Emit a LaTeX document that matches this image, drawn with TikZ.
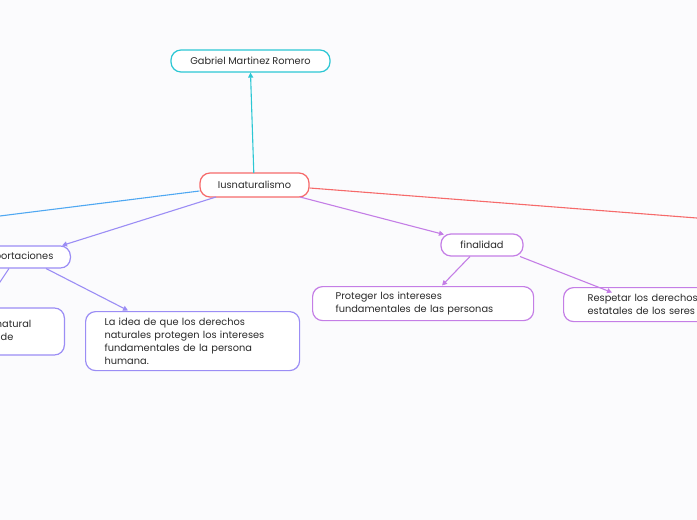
\documentclass[tikz,border=0pt]{standalone}
\usepackage{fontspec}
\setmainfont{Poppins}
\usetikzlibrary{arrows.meta}
\definecolor{bgc}{HTML}{FBFBFD}
\definecolor{cyanc}{HTML}{2CC7D4}
\definecolor{redc}{HTML}{F66A6A}
\definecolor{bluec}{HTML}{4FA8F2}
\definecolor{peric}{HTML}{9B8DF5}
\definecolor{orchc}{HTML}{C47EE6}
\definecolor{txt}{HTML}{2A2A2A}
\tikzset{
  box/.style={draw, line width=1.2pt, rounded corners=10pt, fill=white, text=txt,
    font=\fontsize{9.8}{13}\selectfont, inner ysep=0pt},
  conn/.style={line width=1.1pt},
  arr/.style={conn, -{Triangle[length=5pt,width=5pt]}},
}
\begin{document}
\begin{tikzpicture}[x=1pt,y=-1pt]
\useasboundingbox (0,0) rectangle (697,520);
\fill[bgc] (0,0) rectangle (697,520);
\clip (0,0) rectangle (697,520);

\node[box, draw=cyanc, minimum width=159pt, minimum height=22pt] (gab) at (250.5,61) {Gabriel Martinez Romero};
\node[box, draw=redc, minimum width=109pt, minimum height=24pt] (ius) at (254.5,185) {Iusnaturalismo};
\node[box, draw=peric, minimum height=22pt, inner xsep=17pt, anchor=east] (apo) at (71,257) {Aportaciones};
\node[box, draw=peric, minimum height=47pt, inner xsep=0pt, align=left, anchor=east] (nat) at (65,331.5)
  {\makebox[160pt][r]{La existencia de un derecho natural}\hspace*{33pt}\\\makebox[142pt][r]{superior y anterior al de}};
\node[box, draw=peric, minimum height=59pt, text width=176pt, inner xsep=19pt, align=left, anchor=north west] (idea) at (85,311)
  {La idea de que los derechos\\naturales protegen los intereses\\fundamentales de la persona\\humana.};
\node[box, draw=orchc, minimum width=82pt, minimum height=22pt] (fin) at (482,245) {finalidad};
\node[box, draw=orchc, minimum height=34pt, text width=175pt, inner xsep=23pt, align=left, anchor=north west] (prot) at (312,286)
  {Proteger los intereses\\fundamentales de las personas};
\node[box, draw=orchc, minimum height=34pt, text width=170pt, inner xsep=24pt, align=left, anchor=north west] (resp) at (563,287)
  {Respetar los derechos no\\estatales de los seres humanos};

\coordinate (offl) at (-100,228.5);
\coordinate (offr) at (800,226);
\coordinate (offbl) at (-20,312);

\draw[arr, cyanc] (253.8,173) -- (gab.south);
\draw[conn, bluec] (ius.west) ++(0,6) -- (offl);
\draw[conn, redc] (ius.east) ++(0,3) -- (offr);
\draw[arr, peric] (216,197) -- (62,245.5);
\draw[arr, orchc] (300,197) -- (444,234.5);
\draw[conn, peric] (9,268.5) -- (offbl);
\draw[arr, peric] (46,268.5) -- (128,310.5);
\draw[arr, orchc] (470,256.5) -- (442,285.5);
\draw[arr, orchc] (520,256.5) -- (612,292.5);
\end{tikzpicture}
\end{document}
